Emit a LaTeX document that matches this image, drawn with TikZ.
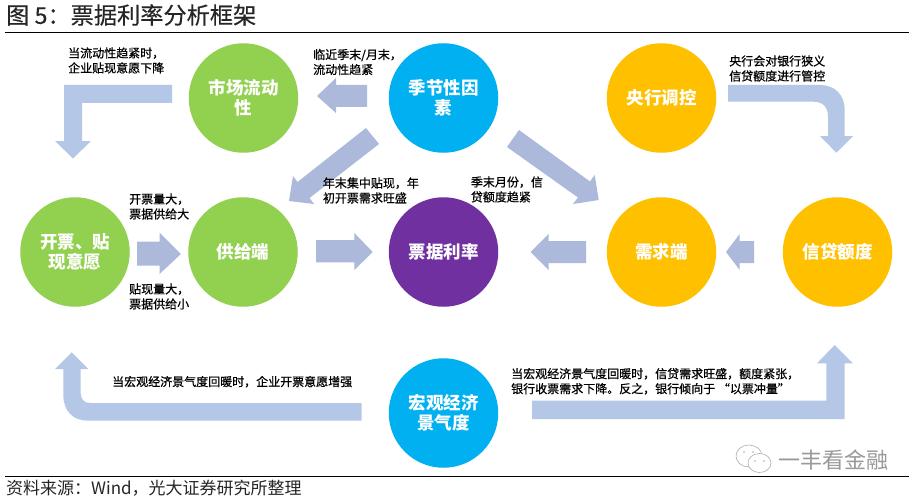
\documentclass[tikz,border=0pt]{standalone}
\usepackage{fontspec}
\setmainfont{Noto Sans CJK SC}
\newfontfamily\noteface[FakeBold=0.7]{Noto Sans CJK SC}
\newfontfamily\headface[FakeBold=0.3]{Noto Sans CJK SC}
\newfontfamily\markface{Noto Sans CJK SC}
\definecolor{cgreen}{HTML}{92D050}
\definecolor{cblue}{HTML}{00B0F0}
\definecolor{cgold}{HTML}{FFC000}
\definecolor{cpurple}{HTML}{7030A0}
\definecolor{arrowa}{HTML}{B4C7E7}
\definecolor{arrowb}{HTML}{ADB9DB}
\definecolor{titleink}{HTML}{262626}
\tikzset{
  circ/.style={circle,minimum size=109.5pt,inner sep=0pt,align=center,text=white,
    font=\fontsize{17.5}{20}\selectfont\bfseries},
  note/.style={anchor=west,inner sep=0pt,align=left,text=black,
    font=\noteface\fontsize{12}{15}\selectfont},
  rulebar/.style={draw=black,line width=1pt},
  blocka/.style={fill=arrowa,draw=none},
  blockb/.style={fill=arrowb,draw=none},
  bubble/.style={draw=black!32,line width=.6pt,fill=white}
}
\begin{document}
\begin{tikzpicture}[x=1pt,y=-1pt]
\useasboundingbox (0,0) rectangle (917,500);
\fill[white] (0,0) rectangle (917,500);
% rules
\coordinate (tl) at (5,32.5); \coordinate (tr) at (909,32.5);
\coordinate (bl) at (5,476); \coordinate (br) at (909,476);
\draw[rulebar] (tl) -- (tr);
\draw[rulebar] (bl) -- (br);
\node[anchor=west,inner sep=0pt,text=titleink,font=\headface\fontsize{23.2}{26}\selectfont] (title) at (6,15) {图 5：票据利率分析框架};
\node[anchor=west,inner sep=0pt,text=titleink,font=\fontsize{17}{20}\selectfont] (source) at (6,488) {资料来源：Wind，光大证券研究所整理};
% block arrows
\fill[blocka] (172,85) -- (64,85) -- (64,141) -- (55,141) -- (73,158.5) -- (91,141) -- (82,141) -- (82,103) -- (172,103) -- cycle;
\fill[blockb] (367,85) -- (336,85) -- (336,78) -- (317,96) -- (336,113) -- (336,107) -- (367,107) -- cycle;
\fill[blockb] (366,128) -- (297.5,182) -- (293,176) -- (289,201) -- (314,204) -- (309.5,198) -- (379,144) -- cycle;
\fill[blockb] (519,130) -- (590,181.5) -- (594.7,175) -- (598.7,200) -- (573,204) -- (578,197.5) -- (507,147) -- cycle;
\fill[blockb] (137,241.7) -- (159.5,241.7) -- (159.5,232.7) -- (181,254) -- (159.5,274) -- (159.5,265.7) -- (137,265.7) -- cycle;
\fill[blockb] (316,240) -- (354.3,240) -- (354.3,233) -- (372.7,252) -- (354.3,270) -- (354.3,262.3) -- (316,262.3) -- cycle;
\fill[blockb] (586,241) -- (548.7,241) -- (548.7,234) -- (530.7,252) -- (548.7,270) -- (548.7,263) -- (586,263) -- cycle;
\fill[blockb] (754,241) -- (739.7,241) -- (739.7,234) -- (726,252) -- (739.7,270) -- (739.7,263) -- (754,263) -- cycle;
\fill[blocka] (728,85) -- (820,85) .. controls (835,85) and (844.7,95) .. (844.7,110) -- (844.7,136) -- (853,136) -- (836.3,152.7) -- (820,136) -- (828,136) -- (828,117) .. controls (828,107) and (823,101.7) .. (813,101.7) -- (728,101.7) -- cycle;
\fill[blocka] (361.7,403) -- (90,403) .. controls (84,403) and (80.7,399) .. (80.7,393) -- (80.7,369) -- (88.3,369) -- (71.7,352.3) -- (55,369) -- (63.3,369) -- (63.3,395) .. controls (63.3,411) and (73,420.7) .. (88,420.7) -- (361.7,420.7) -- cycle;
\fill[blocka] (532,400.7) -- (826.3,400.7) -- (826.3,363.3) -- (817,363.3) -- (834.7,345) -- (853,363.3) -- (844.7,363.3) -- (844.7,419) -- (532,419) -- cycle;
% circles
\node[circ,fill=cgreen] (liquidity) at (243.5,98) {市场流动\\性};
\node[circ,fill=cblue] (season) at (443.5,98) {季节性因\\素};
\node[circ,fill=cgold] (pboc) at (661.5,98) {央行调控};
\node[circ,fill=cgreen] (willing) at (75,252) {开票、贴\\现意愿};
\node[circ,fill=cgreen] (supply) at (243,252) {供给端};
\node[circ,fill=cpurple] (rate) at (443.5,252) {票据利率};
\node[circ,fill=cgold] (demand) at (661.5,252) {需求端};
\node[circ,fill=cgold] (credit) at (837.5,252) {信贷额度};
\node[circ,fill=cblue] (macro) at (443.5,413) {宏观经济\\景气度};
% notes
\node[note] (n1) at (68,60.5) {当流动性趋紧时，\\企业贴现意愿下降};
\node[note] (n2) at (313,62) {临近季末/月末，\\流动性趋紧};
\node[note] (n3) at (729,68.5) {央行会对银行狭义\\信贷额度进行管控};
\node[note] (n4) at (322.7,190.5) {年末集中贴现，年\\初开票需求旺盛};
\node[note] (n5) at (470.7,189.5) {季末月份，信\\贷额度趋紧};
\node[note] (n6) at (129,206.5) {开票量大，\\票据供给大};
\node[note] (n7) at (129,296.5) {贴现量大，\\票据供给小};
\node[note] (n8) at (112,381.7) {当宏观经济景气度回暖时，企业开票意愿增强};
\node[note] (n9) at (511,381.3) {当宏观经济景气度回暖时，信贷需求旺盛，额度紧张，\\银行收票需求下降。反之，银行倾向于 “以票冲量”};
% watermark
\draw[bubble] (749,456) ellipse (13pt and 11pt);
\draw[bubble] (759.5,463) ellipse (11.5pt and 9.5pt);
\fill[black!32] (744,452) circle (.9pt) (753,452) circle (.9pt) (755,461) circle (.9pt) (764,461) circle (.9pt);
\node[anchor=west,inner sep=0pt,text=black!40,font=\markface\fontsize{22}{24}\selectfont] (mark) at (778,460) {一丰看金融};
\end{tikzpicture}
\end{document}
